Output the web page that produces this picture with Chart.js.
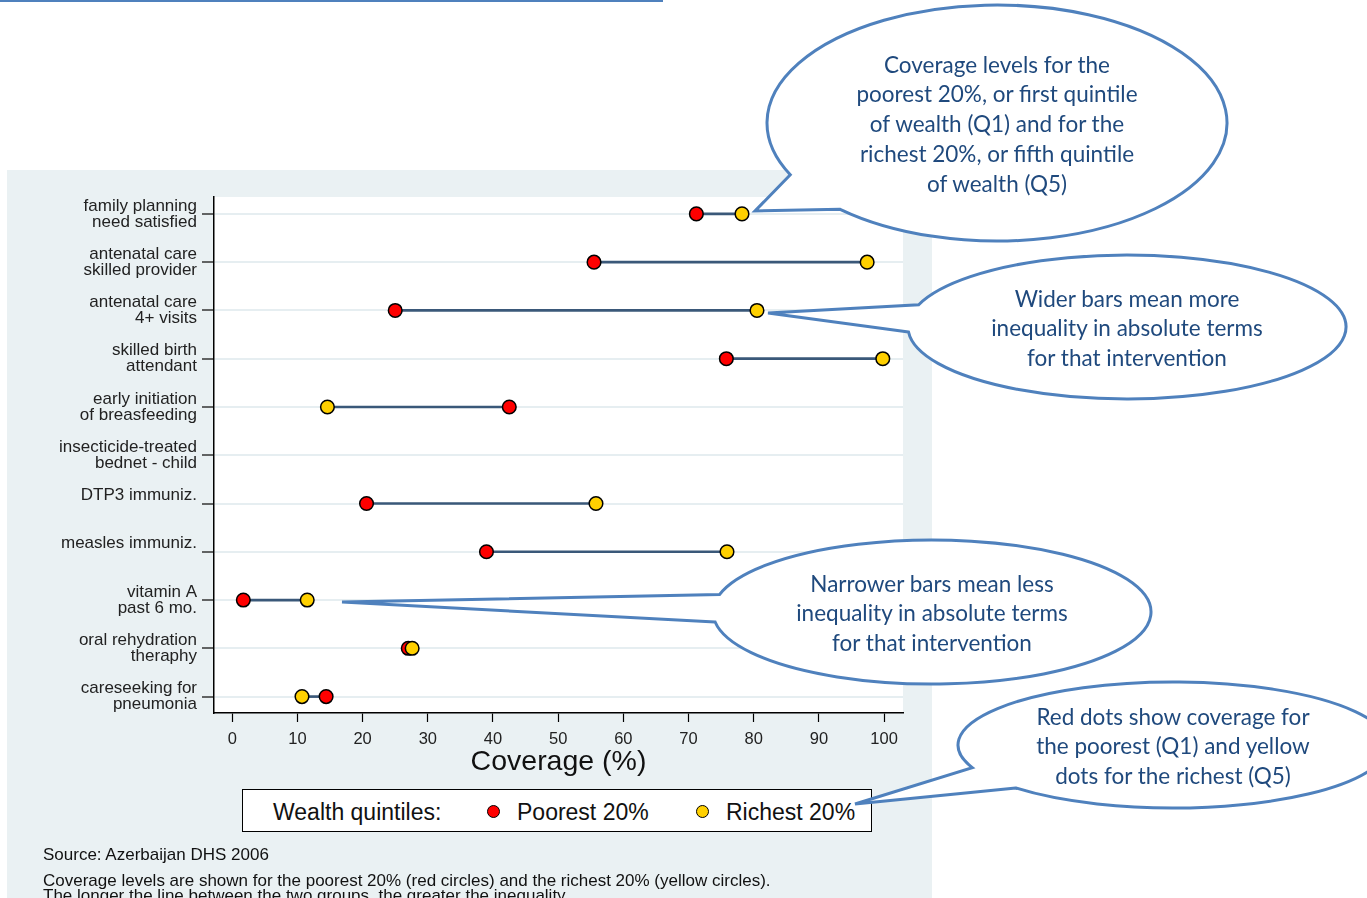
<!DOCTYPE html>
<html>
<head>
<meta charset="utf-8">
<script src="https://cdn.jsdelivr.net/npm/chart.js@4.4.1/dist/chart.umd.min.js"></script>
<style>
  body { margin: 0; width: 1367px; height: 898px; position: relative; overflow: hidden; background: #fff;
         font-family: "Liberation Sans", Arial, sans-serif; color: #111; }
  #topline { position: absolute; left: 0; top: 0; width: 663px; height: 2px; background: #4f81bd; }
  #panel { position: absolute; left: 7px; top: 170px; width: 925px; height: 728px; background: #eaf1f3; }
  #chartbox { position: absolute; left: 7px; top: 170px; width: 925px; height: 728px; }
  #legend { position: absolute; left: 242px; top: 789px; width: 628px; height: 41px; border: 1px solid #000; background: #fff; }
  #legend span { position: absolute; top: 10px; font-size: 23px; line-height: 25px; white-space: nowrap; }
  #legend i { position: absolute; top: 15px; width: 11px; height: 11px; border: 1.5px solid #000; border-radius: 50%; }
  .note { position: absolute; left: 43px; font-size: 17px; line-height: 17px; white-space: nowrap; }
  svg { position: absolute; left: 0; top: 0; }
  svg text { font-family: Lato, "Open Sans", sans-serif; font-size: 22.5px; fill: #1f497d; text-anchor: middle; }
</style>
</head>
<body>
<div id="topline"></div>
<div id="panel"></div>
<div id="chartbox"><canvas id="chart" width="925" height="728"></canvas></div>

<div id="legend">
  <span style="left:30px">Wealth quintiles:</span>
  <i style="left:244px;background:#ff0000"></i>
  <span style="left:274px">Poorest 20%</span>
  <i style="left:453px;background:#ffd000"></i>
  <span style="left:483px">Richest 20%</span>
</div>

<div class="note" style="top:846px">Source: Azerbaijan DHS 2006</div>
<div class="note" style="top:872px">Coverage levels are shown for the poorest 20% (red circles) and the richest 20% (yellow circles).</div>
<div class="note" style="top:887px">The longer the line between the two groups, the greater the inequality.</div>

<svg id="notes" width="1367" height="898"></svg>

<script>
// interventions (two-line labels as on the original axis)
const categories = [
  ['family planning', 'need satisfied'],
  ['antenatal care', 'skilled provider'],
  ['antenatal care', '4+ visits'],
  ['skilled birth', 'attendant'],
  ['early initiation', 'of breasfeeding'],
  ['insecticide-treated', 'bednet - child'],
  ['DTP3 immuniz.', ''],
  ['measles immuniz.', ''],
  ['vitamin A', 'past 6 mo.'],
  ['oral rehydration', 'theraphy'],
  ['careseeking for', 'pneumonia']
];
const poorest = [71.2, 55.5, 25.0, 75.8, 42.5, null, 20.6, 39.0, 1.7, 27.0, 14.4];
const richest = [78.2, 97.4, 80.5, 99.8, 14.6, null, 55.8, 75.9, 11.5, 27.6, 10.7];
const xTicks = [0, 10, 20, 30, 40, 50, 60, 70, 80, 90, 100];

const gaps = [];
const poorPts = [];
const richPts = [];
categories.forEach((c, i) => {
  if (poorest[i] == null || richest[i] == null) return;
  gaps.push({ y: i, x: [poorest[i], richest[i]] });
  poorPts.push({ y: i, x: poorest[i] });
  richPts.push({ y: i, x: richest[i] });
});

const whiteArea = {
  id: 'whiteArea',
  beforeDraw(chart) {
    const a = chart.chartArea, ctx = chart.ctx;
    ctx.save();
    ctx.fillStyle = '#fff';
    ctx.fillRect(a.left, a.top, a.right - a.left, a.bottom - a.top);
    ctx.restore();
  }
};

new Chart(document.getElementById('chart'), {
  type: 'bar',
  data: {
    datasets: [
      { type: 'scatter', label: 'Richest 20%', data: richPts, order: 0,
        pointRadius: 6.8, borderWidth: 1.5, borderColor: '#000', backgroundColor: '#ffd000' },
      { type: 'scatter', label: 'Poorest 20%', data: poorPts, order: 1,
        pointRadius: 6.8, borderWidth: 1.5, borderColor: '#000', backgroundColor: '#ff0000' },
      { type: 'bar', label: 'gap', data: gaps, order: 2, indexAxis: 'y',
        barThickness: 2, backgroundColor: '#3a5879', borderWidth: 0 }
    ]
  },
  options: {
    indexAxis: 'y',
    responsive: false,
    animation: false,
    layout: { padding: { left: 0, top: 27, right: 29, bottom: 119 } },
    plugins: { legend: { display: false }, tooltip: { enabled: false } },
    scales: {
      x: {
        type: 'linear', min: -2.8, max: 102.9, offset: false,
        afterBuildTicks: s => { s.ticks = xTicks.map(v => ({ value: v })); },
        afterFit: s => { s.height = 66; },
        grid: { offset: false, drawOnChartArea: false, tickLength: 9, tickColor: '#000', tickWidth: 1.2 },
        border: { color: '#000', width: 1.5 },
        ticks: { padding: 8, color: '#222', font: { family: 'Liberation Sans', size: 16.5 }, maxRotation: 0 },
        title: { display: true, text: 'Coverage (%)', color: '#111', padding: 0,
                 font: { family: 'Liberation Sans', size: 28.5 } }
      },
      y: {
        type: 'linear', reverse: true, min: -0.35, max: 10.34, offset: false,
        afterBuildTicks: s => { s.ticks = categories.map((c, i) => ({ value: i })); },
        afterFit: s => { s.width = 207; },
        grid: { offset: false, color: '#e6eef1', lineWidth: 2, tickLength: 12, tickColor: '#333', tickWidth: 1.5 },
        border: { color: '#000', width: 1.5 },
        ticks: { padding: 5, color: '#222', font: { family: 'Liberation Sans', size: 17, lineHeight: 0.95 },
                 callback: v => categories[v] }
      }
    }
  },
  plugins: [whiteArea]
});

// speech-bubble callouts
const bubbles = [
  { cx: 997, cy: 123, rx: 230, ry: 118, a1: 133, a2: 154, tip: [755, 211],
    lines: ['Coverage levels for the', 'poorest 20%, or first quintile', 'of wealth (Q1) and for the',
            'richest 20%, or fifth quintile', 'of wealth (Q5)'], ty: 64 },
  { cx: 1127, cy: 327, rx: 219, ry: 72, a1: 176, a2: 198, tip: [768, 313],
    lines: ['Wider bars mean more', 'inequality in absolute terms', 'for that intervention'], ty: 298 },
  { cx: 932, cy: 612, rx: 219, ry: 72, a1: 172, a2: 194, tip: [342, 602],
    lines: ['Narrower bars mean less', 'inequality in absolute terms', 'for that intervention'], ty: 583 },
  { cx: 1173, cy: 745, rx: 215, ry: 63, a1: 137, a2: 159, tip: [855, 804],
    lines: ['Red dots show coverage for', 'the poorest (Q1) and yellow', 'dots for the richest (Q5)'], ty: 716 }
];
const svg = document.getElementById('notes');
const NS = 'http://www.w3.org/2000/svg';
bubbles.forEach(b => {
  const pt = a => [b.cx + b.rx * Math.cos(a * Math.PI / 180), b.cy + b.ry * Math.sin(a * Math.PI / 180)];
  const p1 = pt(b.a1), p2 = pt(b.a2);
  const path = document.createElementNS(NS, 'path');
  path.setAttribute('d', `M${p1} L${b.tip} L${p2} A${b.rx} ${b.ry} 0 1 1 ${p1} Z`);
  path.setAttribute('fill', '#fff');
  path.setAttribute('stroke', '#4f81bd');
  path.setAttribute('stroke-width', '3');
  path.setAttribute('stroke-linejoin', 'miter');
  svg.appendChild(path);
  b.lines.forEach((l, k) => {
    const t = document.createElementNS(NS, 'text');
    t.setAttribute('x', b.cx);
    t.setAttribute('y', b.ty + k * 29.8);
    t.setAttribute('dominant-baseline', 'central');
    t.textContent = l;
    svg.appendChild(t);
  });
});
</script>
</body>
</html>
